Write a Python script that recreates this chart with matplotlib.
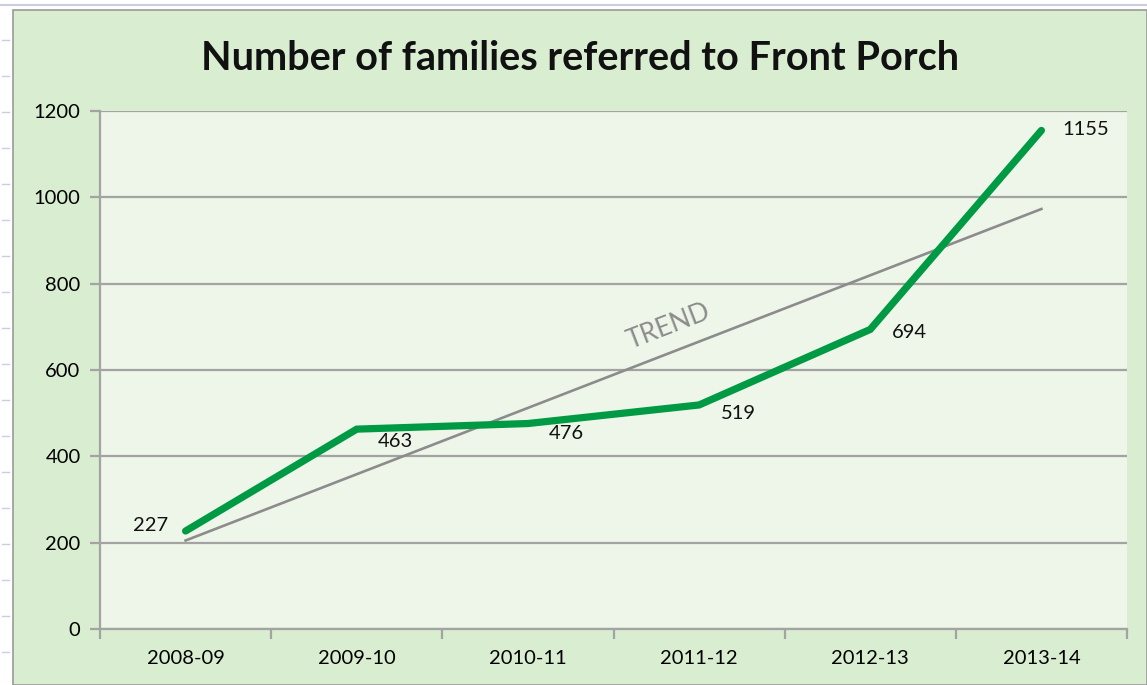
import numpy as np
import matplotlib as mpl
mpl.use("Agg")
import matplotlib.pyplot as plt
from matplotlib.patches import Rectangle

plt.rcParams['font.family'] = ['Lato', 'DejaVu Sans']

# data
seasons = ['2008-09', '2009-10', '2010-11', '2011-12', '2012-13', '2013-14']
families = [227, 463, 476, 519, 694, 1155]
yticks = [0, 200, 400, 600, 800, 1000, 1200]

# colours
outer_bg = '#d9edd1'
plot_bg = '#edf6e8'
line_green = '#009a44'
trend_gray = '#8c8c8c'
grid_gray = '#a3a3a3'

fig = plt.figure(figsize=(11.47, 6.85), dpi=100)
fig.patch.set_facecolor('white')

# chart area box, like the spreadsheet chart object
fig.patches.append(Rectangle((13/1147, 0), 1 - 13/1147, 1 - 10/685,
                             transform=fig.transFigure, facecolor=outer_bg,
                             edgecolor='#9a9a9a', linewidth=1.2, zorder=-5))
fig.add_artist(plt.Line2D([0, 1], [1 - 5/685, 1 - 5/685], transform=fig.transFigure,
                          color='#c9cfe0', linewidth=1.5, zorder=-5))
for yy in np.arange(40, 685, 36):
    fig.add_artist(plt.Line2D([2/1147, 9/1147], [1 - yy/685, 1 - yy/685],
                              transform=fig.transFigure, color='#c9cfe0', linewidth=1,
                              zorder=-5))

ax = fig.add_axes([100/1147, 1 - 629/685, 1027/1147, 518/685])
ax.set_zorder(2)
ax.set_facecolor(plot_bg)

x = np.arange(len(seasons))
ax.plot(x, families, color=line_green, linewidth=5.2, solid_capstyle='round',
        solid_joinstyle='miter', zorder=4)

# linear trend of the series
slope, icpt = np.polyfit(x, families, 1)
ax.plot(x, slope * x + icpt, color=trend_gray, linewidth=1.9, zorder=3)
ax.text(2.82, 700, 'TREND', color=trend_gray, fontsize=19, rotation=21,
        ha='center', va='center', zorder=5)

# data labels
label_offsets = [(-25, 4), (28, -9), (28, -7), (28, -6), (28, -2), (32, 1)]
for xi, v, off in zip(x, families, label_offsets):
    ax.annotate(str(v), (xi, v), xytext=off, textcoords='offset points',
                ha='center', va='center', fontsize=14.5, color='#111111', zorder=6)

ax.set_xlim(-0.5, len(seasons) - 0.5)
ax.set_ylim(0, 1200)
ax.set_yticks(yticks)
ax.yaxis.grid(True, color=grid_gray, linewidth=1.6)
ax.set_axisbelow(True)
ax.set_xticks(x)
ax.set_xticklabels(seasons)
ax.set_xticks(np.arange(-0.5, len(seasons)), minor=True)
ax.tick_params(axis='x', which='major', length=0, pad=15, labelsize=14.5)
ax.tick_params(axis='x', which='minor', length=7, width=1.6, color=grid_gray, direction='out')
ax.tick_params(axis='y', length=7, width=1.6, color=grid_gray, pad=7, labelsize=14.5)

for side in ['top', 'right']:
    ax.spines[side].set_visible(False)
for side in ['left', 'bottom']:
    ax.spines[side].set_color(grid_gray)
    ax.spines[side].set_linewidth(1.6)

fig.text(580/1147, 1 - 59/685, 'Number of families referred to Front Porch',
         ha='center', va='center', fontsize=28.5, fontweight='bold', color='#111111')

fig.savefig('out.png', dpi=100)
